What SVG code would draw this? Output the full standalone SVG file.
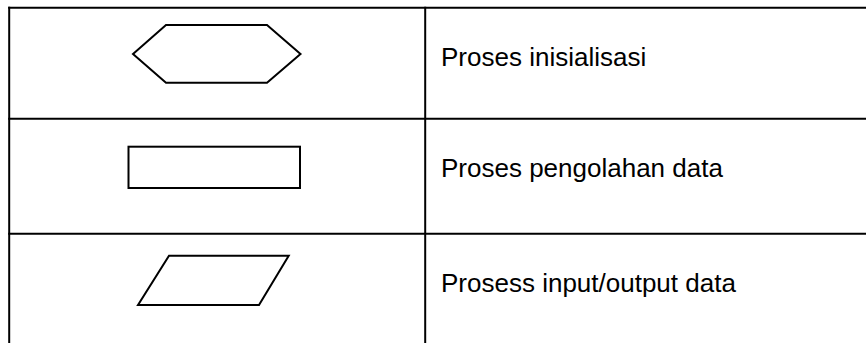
<svg xmlns="http://www.w3.org/2000/svg" width="866" height="343" viewBox="0 0 866 343">
  <style>
    .grid { stroke: #000; stroke-width: 2; fill: none; }
    .shape { stroke: #000; stroke-width: 2; fill: #fff; stroke-linejoin: miter; }
    .label { font-family: "Liberation Sans", Arial, sans-serif; font-size: 26px; fill: #000; }
  </style>
  <rect width="866" height="343" fill="#fff"/>

  <!-- table rules -->
  <g id="table" class="grid">
    <line x1="8.2" y1="7.7" x2="866" y2="7.7"/>
    <line x1="8.2" y1="118.7" x2="866" y2="118.7"/>
    <line x1="8.2" y1="233.7" x2="866" y2="233.7"/>
    <line x1="9.2" y1="6.7" x2="9.2" y2="343"/>
    <line x1="425.2" y1="6.7" x2="425.2" y2="343"/>
  </g>

  <!-- connectors: none in this legend -->
  <g id="connectors"></g>

  <g id="row-init">
    <polygon class="shape" points="133,54 166,25 267,25 300.5,54 267,82.7 166,82.7"/>
    <text class="label" x="441" y="65.7">Proses inisialisasi</text>
  </g>

  <g id="row-process">
    <rect class="shape" x="128.5" y="146.7" width="171.5" height="41.3"/>
    <text class="label" x="441" y="176.7">Proses pengolahan data</text>
  </g>

  <g id="row-io">
    <polygon class="shape" points="169,255.7 288.7,255.7 259,305 138,305"/>
    <text class="label" x="441" y="291.7">Prosess input/output data</text>
  </g>
</svg>
